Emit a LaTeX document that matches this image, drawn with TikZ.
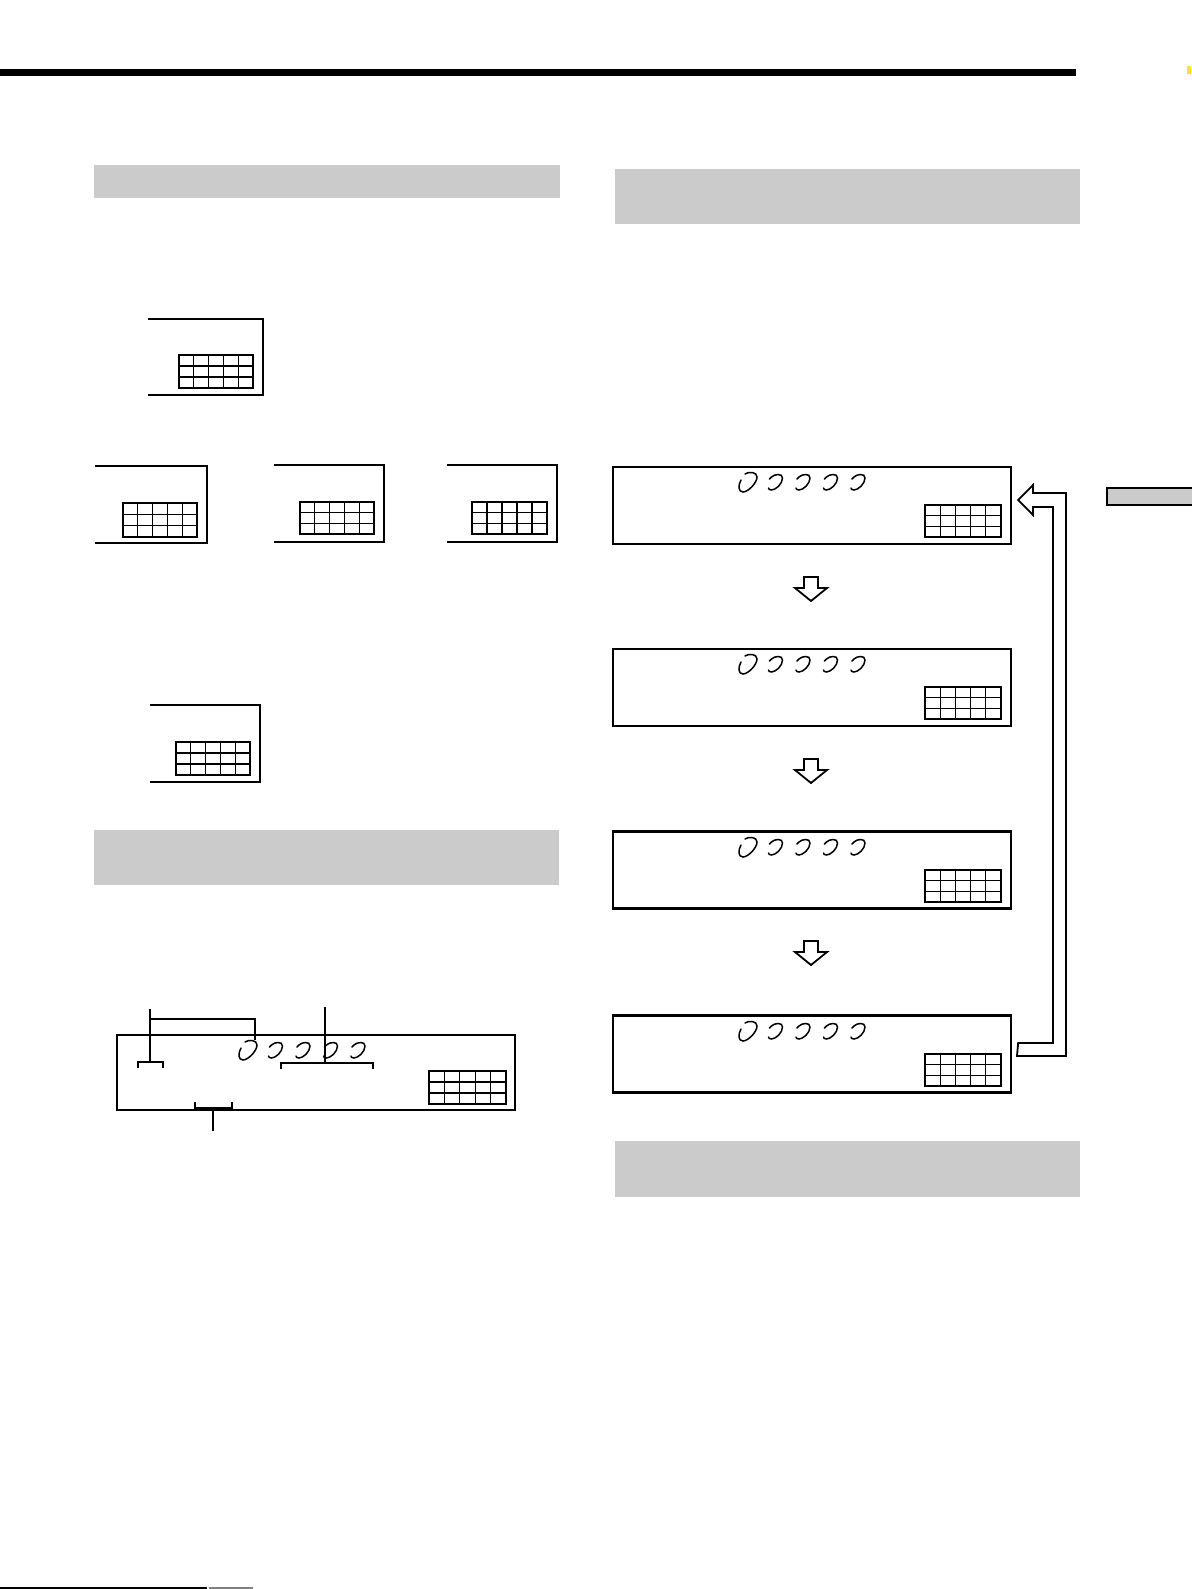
\documentclass[tikz,border=0pt]{standalone}
\usetikzlibrary{calc}
\definecolor{barg}{RGB}{203,203,203}
\definecolor{marky}{RGB}{250,230,40}
\newcommand\lcdgrid[4]{%
  \draw[gridln] ({#1},{#2}) rectangle ({#3},{#4});
  \foreach \i in {1,...,4} \draw[gridln] ({(#1)+\i*((#3)-(#1))/5},{#2}) -- ({(#1)+\i*((#3)-(#1))/5},{#4});
  \foreach \j in {1,2} \draw[gridln] ({#1},{(#2)+\j*((#4)-(#2))/3}) -- ({#3},{(#2)+\j*((#4)-(#2))/3});
}
\newcommand\swirlrow[2]{%
  \pic at ({#1},{#2}) {bigswirl};
  \foreach \k in {1,...,4} \pic at ({(#1)+\k*27.5},{#2}) {smallswirl};
}
\newcommand\openframe[4]{%
  \draw[frame] (#1,#2) -- (#3,#2) -- (#3,#4) -- (#1,#4);
}
\begin{document}
\begin{tikzpicture}[x=0.5pt,y=-0.5pt,
  frame/.style={line width=1.25pt},
  gridln/.style={line width=0.65pt},
  swirl/.style={line width=0.75pt,line cap=round},
  lbl/.style={line width=1pt},
  dispbox/.style={draw,line width=1.15pt,minimum width=199pt,minimum height=38.5pt,inner sep=0pt},
  hollow/.style={draw,line width=0.9pt,fill=white,line join=miter},
  bigswirl/.pic={\draw[swirl] (-3,-8) .. controls (1,-11) and (9,-10) .. (9,-5) .. controls (9,1) and (0,10) .. (-5,10) .. controls (-10,10) and (-10,3) .. (-7,-2);},
  smallswirl/.pic={\draw[swirl] (-6,-3) -- (-4,-5) .. controls (-1,-8) and (7,-9) .. (7,-4) .. controls (7,2) and (0,8) .. (-4,8) .. controls (-6,8) and (-7,7) .. (-7,6);}
]
\useasboundingbox (0,0) rectangle (1191,1589);
\fill[white] (0,0) rectangle (1191,1589);

% top rule and marks
\fill[black] (0,69) rectangle (1076,76);
\fill[marky] (1187,66) rectangle (1191,74);
\draw[line width=0.6pt] (0,1588) -- (207,1588);
\draw[line width=0.6pt,gray] (209,1588) -- (253,1588);

% gray heading bars
\fill[barg] (94,165) rectangle (560,198);
\fill[barg] (615,169) rectangle (1080,224);
\fill[barg] (94,830) rectangle (559,885);
\fill[barg] (615,1141) rectangle (1080,1197);
\draw[line width=0.75pt,fill=barg] (1193,488) -- (1107,488) -- (1107,505) -- (1193,505);

% left column open display frames
\openframe{148}{319}{263}{395}
\lcdgrid{179}{355}{253}{388}
\openframe{95}{466}{207}{543}
\lcdgrid{123}{503}{197}{537}
\openframe{274}{465}{384}{542}
\lcdgrid{300}{502}{374}{534}
\openframe{447}{465}{557}{542}
\lcdgrid{472}{502}{547}{534}
\openframe{150}{705}{260}{782}
\lcdgrid{176}{742}{250}{775}

% bottom-left display with leader lines
\draw[frame] (117,1035) rectangle (515,1110);
\lcdgrid{429}{1071}{506}{1104}
\swirlrow{248}{1050}
\draw[lbl] (150,1009) -- (150,1062);
\draw[lbl] (138,1068) -- (138,1062) -- (163,1062) -- (163,1068);
\draw[lbl] (150,1019) -- (255,1019) -- (255,1040);
\draw[lbl] (325,1007) -- (325,1063);
\draw[lbl] (281,1069) -- (281,1063) -- (373,1063) -- (373,1069);
\draw[lbl] (195,1102) -- (195,1108) -- (232,1108) -- (232,1102);
\draw[lbl] (213,1108) -- (213,1131);

% right column displays
\node[dispbox] (d1) at (812,505.5) {};
\node[dispbox] (d2) at (812,687.5) {};
\node[dispbox] (d3) at (812,870) {};
\node[dispbox] (d4) at (812,1054) {};
\foreach \t in {467,649,832,1016} {
  \swirlrow{748}{\t+15}
  \lcdgrid{925}{\t+38}{1001}{\t+70}
}

% hollow down arrows
\foreach \t in {577,759,941} {
  \draw[hollow] (804,\t) -- (818,\t) -- (818,\t+11) -- (827,\t+11) -- (811,\t+24) -- (795,\t+11) -- (804,\t+11) -- cycle;
}

% return loop arrow from last display to first
\coordinate (loopend) at ($(d4.east)+(6,-11)$);
\coordinate (looptip) at ($(d1.east)+(6,-5.5)$);
\draw[hollow] (loopend) -- (1053,1043) -- (1053,507) -- (1033,507) -- (1033,515) -- (looptip) -- (1033,485) -- (1033,493) -- (1066,493) -- (1066,1056) -- (1017,1056) -- cycle;
\end{tikzpicture}
\end{document}
